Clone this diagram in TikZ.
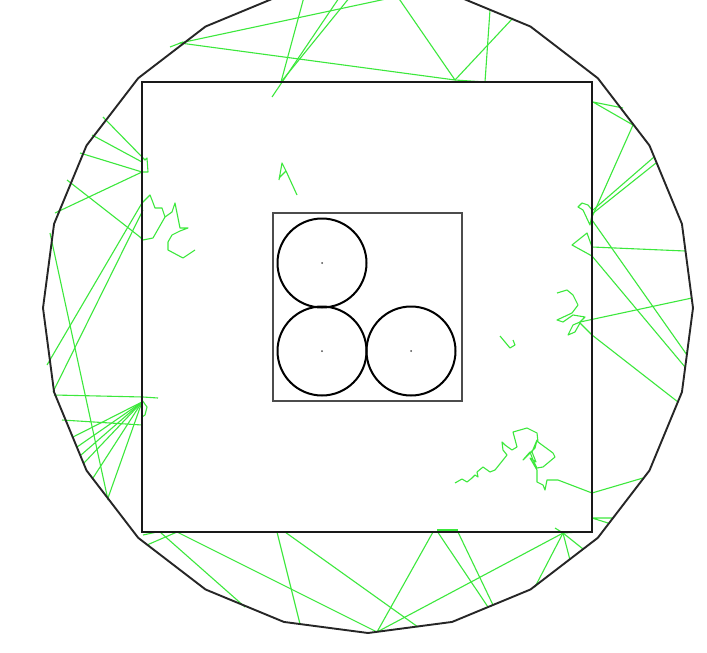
\documentclass[tikz,border=0pt]{standalone}
\definecolor{walkgreen}{RGB}{60,232,60}
\begin{document}
\begin{tikzpicture}[x=1pt,y=-1pt,
  wall/.style={line width=1.9pt,draw=black!85,line join=round},
  box/.style={line width=2pt,draw=black!90},
  cell/.style={line width=1.2pt,draw=black!70},
  disc/.style={line width=2pt,draw=black},
  walk/.style={line width=1.1pt,draw=walkgreen,line join=round}]
\clip (0,0) rectangle (707,653);
\fill[white] (0,0) rectangle (707,653);
\coordinate (mid) at (368,308);
\coordinate (c1) at (322,263);
\coordinate (c2) at (322,351);
\coordinate (c3) at (411,351);
% paths near the top
\draw[walk] (400,-4) -- (180,43) -- (455,80) -- (393,-10);
\draw[walk] (455,80) -- (513,18);
\draw[walk] (490,10) -- (485,82) -- (455,80);
\draw[walk] (170,47) -- (183,42);
\draw[walk] (272,97) -- (341,-5);
\draw[walk] (281,82) -- (350,-3);
\draw[walk] (281,82) -- (304,-3);
% left side
\draw[walk] (103,117) -- (145,160) -- (147,158) -- (148,172) -- (142,172) -- (80,153);
\draw[walk] (92,135) -- (142,162);
\draw[walk] (55,213) -- (142,172);
\draw[walk] (67,180) -- (140,237) -- (143,240) -- (153,238) -- (165,217);
\draw[walk] (47,365) -- (142,203) -- (150,195) -- (152,200) -- (155,208) -- (162,208)
  -- (165,217) -- (172,212) -- (175,203) -- (180,228) -- (188,228) -- (180,231)
  -- (172,235) -- (168,242) -- (168,250) -- (183,258) -- (195,250);
\draw[walk] (53,392) -- (143,210);
\draw[walk] (50,233) -- (108,500);
\draw[walk] (54,395) -- (143,397) -- (158,398);
\draw[walk] (62,420) -- (142,425);
\draw[walk] (142,400) -- (147,407) -- (145,415) -- (142,417);
\foreach \px/\py in {73/437,77/447,81/455,84/463,93/478,108/498}
  \draw[walk] (142,402) -- (\px,\py);
% small bits inside
\draw[walk] (279,180) -- (282,163) -- (286,171) -- (279,178);
\draw[walk] (286,171) -- (297,195);
\draw[walk] (500,336) -- (510,348) -- (515,345) -- (513,340);
% right side
\draw[walk] (623,108) -- (593,102) -- (633,125) -- (592,217);
\draw[walk] (654,157) -- (593,210);
\draw[walk] (656,163) -- (592,214);
\draw[walk] (592,215) -- (590,225) -- (583,210) -- (578,207) -- (582,203) -- (588,205) -- (592,210);
\draw[walk] (592,220) -- (687,355);
\draw[walk] (685,251) -- (592,247) -- (587,233) -- (572,245) -- (592,256) -- (685,367);
\draw[walk] (557,293) -- (567,290) -- (573,295) -- (578,305) -- (572,313) -- (557,320)
  -- (563,322) -- (573,315) -- (585,317) -- (580,322) -- (573,325) -- (568,335)
  -- (575,332) -- (580,323) -- (592,335) -- (678,402);
\draw[walk] (580,322) -- (692,298);
\draw[walk] (612,518) -- (592,518) -- (608,523);
% cluster lower right
\draw[walk] (455,483) -- (462,479) -- (467,482) -- (472,478) -- (475,475) -- (478,477)
  -- (477,472) -- (483,467) -- (490,472) -- (495,470) -- (507,455) -- (503,450)
  -- (502,442) -- (505,445) -- (512,450) -- (517,447) -- (513,432) -- (527,428)
  -- (537,433) -- (538,442) -- (553,453) -- (555,457) -- (543,467) -- (537,468)
  -- (533,460) -- (530,452) -- (523,460) -- (528,455) -- (535,448) -- (537,440)
  -- (532,452) -- (536,462) -- (530,458) -- (537,470) -- (537,482) -- (543,485)
  -- (545,490) -- (547,480) -- (558,480) -- (592,493) -- (643,478);
% bottom
\draw[walk] (143,535) -- (157,532);
\draw[walk] (147,545) -- (177,532) -- (377,632);
\draw[walk] (160,532) -- (245,607);
\draw[walk] (277,532) -- (300,624);
\draw[walk] (285,532) -- (418,627);
\draw[walk] (433,532) -- (377,632) -- (565,532);
\draw[walk] (437,531) -- (488,607);
\draw[walk] (457,530) -- (493,605);
\draw[walk] (437,530) -- (458,530);
\draw[walk] (555,528) -- (563,533) -- (580,532);
\draw[walk] (563,533) -- (535,587);
\draw[walk] (563,533) -- (570,560);
\draw[walk] (563,533) -- (583,549);
% container and obstacles
\draw[wall,shift={(mid)}] (0:325) \foreach \a in {15,30,...,345}{ -- (\a:325)} -- cycle;
\draw[box] (142,82) rectangle (592,532);
\draw[cell] (273,213) rectangle (462,401);
\foreach \c in {c1,c2,c3}{
  \draw[disc] (\c) circle (44.5);
  \fill[black!70] (\c) circle (1);
}
\end{tikzpicture}
\end{document}
